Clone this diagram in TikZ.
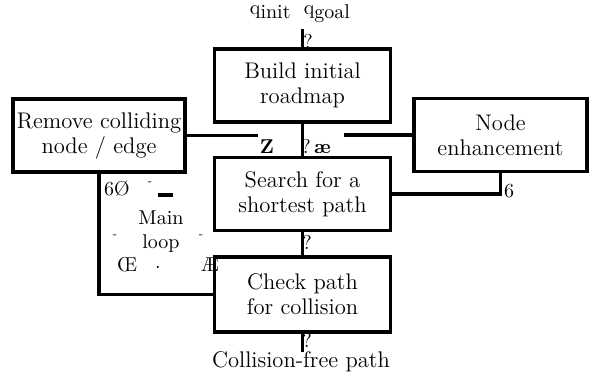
\documentclass[tikz,border=0pt]{standalone}
\begin{document}
\begin{tikzpicture}[x=0.5pt,y=-0.5pt,
  box/.style={draw,line width=1.6pt,minimum width=88pt,minimum height=36.5pt,align=center,inner sep=1pt,font=\fontsize{11.3}{12.5}\selectfont},
  conn/.style={line width=1.6pt},
  glyph/.style={inner sep=0pt,font=\normalsize}]
\useasboundingbox (0,0) rectangle (590,376);
\node[box] (build) at (302.5,85.5) {Build initial\\roadmap};
\node[box] (search) at (302.5,194) {Search for a\\shortest path};
\node[box,minimum height=37.5pt] (check) at (302.5,294.5) {Check path\\for collision};
\node[box,minimum width=86pt] (remove) at (99,135.5) {Remove colliding\\node / edge};
\node[box,minimum width=86.5pt] (enh) at (500.5,135) {Node\\enhancement};
\node[glyph] (qtext) at (300,14) {\raisebox{2pt}{q}init\ \ \raisebox{2pt}{q}goal};
\coordinate (qtop) at (302.5,29);
\coordinate (rend) at (258,135.5);
\coordinate (eend) at (344,135);
\coordinate (cend) at (302.5,352);
\draw[conn] (qtop) -- (build.north);
\draw[conn] (build.south) -- (search.north);
\draw[conn] (remove.east) -- (rend);
\draw[conn] (enh.west) -- (eend);
\draw[conn] (search.east) -| (enh.south);
\draw[conn] (search.south) -- (check.north);
\draw[conn] (check.south) -- (cend);
\draw[conn] (check.west) -| (remove.south);
\node[glyph,font=\fontsize{11.3}{12.5}\selectfont] (cfp) at (301,362) {Collision-free path};
\node[glyph] (g1) at (308,41) {?};
\node[glyph] (g2) at (307,242) {?};
\node[glyph] (g3) at (307,340) {?};
\node[glyph] (g4) at (316,147) {?\,\textbf{æ}};
\node[glyph] (g5) at (267,147) {\textbf{Z}};
\node[glyph] (g6) at (117,189) {6Ø};
\node[glyph,font=\tiny] (g7) at (150,183) {-};
\fill (158,192.5) rectangle (173,196.5);
\node[glyph,font=\tiny] (g8) at (115,236) {-};
\node[glyph,font=\tiny] (g9) at (201,236) {-};
\node[glyph,align=center] (mloop) at (161,232) {Main\\loop};
\node[glyph] (g10) at (127,265) {Œ};
\node[glyph] (g11) at (158,267) {.};
\node[glyph] (g12) at (210,265) {Æ};
\node[glyph] (g13) at (509,191) {6};
\end{tikzpicture}
\end{document}
